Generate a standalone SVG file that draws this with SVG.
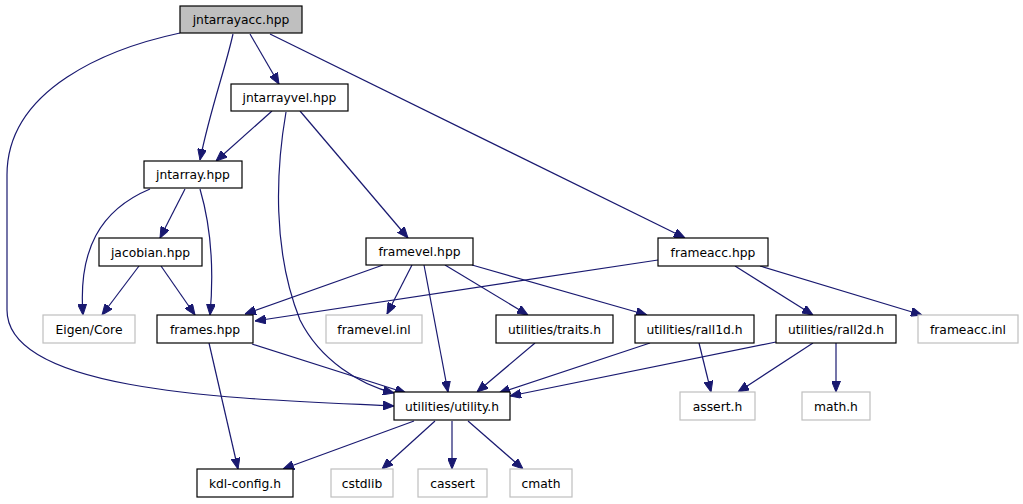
<svg xmlns="http://www.w3.org/2000/svg" width="1023" height="504" viewBox="0 0 1023 504">
<style>
.n rect{fill:#fff;stroke:#000;stroke-width:1.2}
.g rect{fill:#fff;stroke:#bfbfbf;stroke-width:1.2}
.root rect{fill:#bfbfbf;stroke:#000;stroke-width:1.2}
text{font-family:"DejaVu Sans",sans-serif;font-size:12.3px;text-anchor:middle;fill:#000}
#edges path{fill:none;stroke:#191970;stroke-width:1.2;marker-end:url(#a)}
</style>
<defs>
<marker id="a" markerUnits="userSpaceOnUse" markerWidth="11" markerHeight="9" viewBox="0 0 11 9" refX="11" refY="4.5" orient="auto">
<path d="M0,0 L11,4.5 L0,9 z" fill="#191970" stroke="#191970"/>
</marker>
</defs>
<rect width="1023" height="504" fill="#fff"/>
<g id="edges">
<path d="M233,34 C225,70 210,110 200,160"/>
<path d="M250,34 L279,84"/>
<path d="M270,34 L685,238"/>
<path d="M180,33 C110,48 7,88 7,175 L7,310 C7,395 250,399 394,406"/>
<path d="M272,111 L216,161"/>
<path d="M286,112 C276,170 272,250 300,320 C320,360 360,385 394,393"/>
<path d="M300,111 L408,238"/>
<path d="M150,189 C100,210 78,250 83,315"/>
<path d="M185,189 L160,238"/>
<path d="M200,189 C212,230 214,270 210,315"/>
<path d="M139,266 L102,315"/>
<path d="M161,266 L195,315"/>
<path d="M383,265 L245,314"/>
<path d="M412,265 L387,314"/>
<path d="M424,265 L448,392"/>
<path d="M445,265 L528,315"/>
<path d="M472,265 L647,315"/>
<path d="M658,260 L255,321"/>
<path d="M735,266 L813,315"/>
<path d="M760,266 L922,315"/>
<path d="M209,343 L238,469"/>
<path d="M252,344 L406,393"/>
<path d="M535,343 L477,392"/>
<path d="M650,343 L499,393"/>
<path d="M699,343 L711,392"/>
<path d="M776,342 L510,396"/>
<path d="M813,343 L738,392"/>
<path d="M836,343 L836,392"/>
<path d="M414,421 L283,469"/>
<path d="M435,421 L382,469"/>
<path d="M452,421 L452,469"/>
<path d="M468,421 L523,469"/>
</g>
<g id="jntarrayacc" class="root"><rect x="180" y="6" width="122" height="27"/><text x="241" y="24">jntarrayacc.hpp</text></g>
<g id="jntarrayvel" class="n"><rect x="231" y="84" width="117" height="27"/><text x="289.5" y="102">jntarrayvel.hpp</text></g>
<g id="jntarray" class="n"><rect x="144" y="161" width="98" height="27"/><text x="193" y="179">jntarray.hpp</text></g>
<g id="jacobian" class="n"><rect x="99" y="238" width="103" height="28"/><text x="150.5" y="256.5">jacobian.hpp</text></g>
<g id="eigencore" class="g"><rect x="43" y="315" width="92" height="28"/><text x="89" y="333.5">Eigen/Core</text></g>
<g id="frames" class="n"><rect x="157" y="315" width="96" height="28"/><text x="205" y="333.5">frames.hpp</text></g>
<g id="framevel" class="n"><rect x="366" y="238" width="107" height="27"/><text x="419.5" y="256">framevel.hpp</text></g>
<g id="framevelinl" class="g"><rect x="326" y="315" width="96" height="28"/><text x="374" y="333.5">framevel.inl</text></g>
<g id="traits" class="n"><rect x="496" y="315" width="117" height="28"/><text x="554.5" y="333.5">utilities/traits.h</text></g>
<g id="rall1d" class="n"><rect x="635" y="315" width="119" height="28"/><text x="694.5" y="333.5">utilities/rall1d.h</text></g>
<g id="rall2d" class="n"><rect x="776" y="315" width="120" height="28"/><text x="836" y="333.5">utilities/rall2d.h</text></g>
<g id="frameaccinl" class="g"><rect x="918" y="315" width="100" height="28"/><text x="968" y="333.5">frameacc.inl</text></g>
<g id="frameacc" class="n"><rect x="658" y="238" width="110" height="28"/><text x="713" y="256.5">frameacc.hpp</text></g>
<g id="asserth" class="g"><rect x="680" y="392" width="75" height="28"/><text x="717.5" y="410.5">assert.h</text></g>
<g id="mathh" class="g"><rect x="802" y="392" width="68" height="28"/><text x="836" y="410.5">math.h</text></g>
<g id="utility" class="n"><rect x="394" y="392" width="116" height="28"/><text x="452" y="410.5">utilities/utility.h</text></g>
<g id="kdlconfig" class="n"><rect x="197" y="469" width="96" height="28"/><text x="245" y="487.5">kdl-config.h</text></g>
<g id="cstdlib" class="g"><rect x="331" y="469" width="62" height="28"/><text x="362" y="487.5">cstdlib</text></g>
<g id="cassert" class="g"><rect x="418" y="469" width="69" height="28"/><text x="452.5" y="487.5">cassert</text></g>
<g id="cmath" class="g"><rect x="510" y="469" width="62" height="28"/><text x="541" y="487.5">cmath</text></g>
</svg>
